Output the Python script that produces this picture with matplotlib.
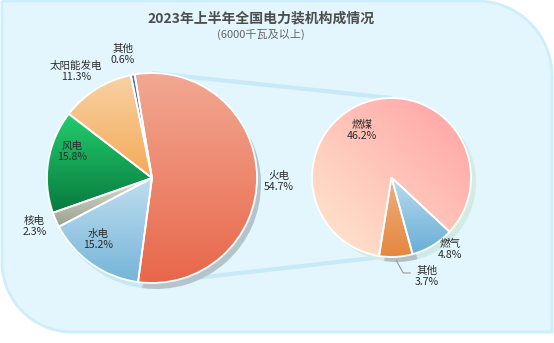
import numpy as np
import matplotlib
matplotlib.use('Agg')
import matplotlib.pyplot as plt
from matplotlib.path import Path
from matplotlib.patches import PathPatch
from matplotlib.colors import LinearSegmentedColormap

plt.rcParams['font.family'] = ['Noto Sans CJK SC', 'DejaVu Sans']

# 数据
title = '2023年上半年全国电力装机构成情况'
subtitle = '(6000千瓦及以上)'
main_labels = ['火电', '水电', '核电', '风电', '太阳能发电', '其他']
main_values = [54.7, 15.2, 2.3, 15.8, 11.3, 0.6]
sub_labels = ['燃煤', '燃气', '其他']
sub_values = [46.2, 4.8, 3.7]

# 颜色 (上, 下)
main_colors = [('#f2a892', '#e8674a'), ('#c0def0', '#76b5d8'), ('#dcded3', '#9aa08d'),
               ('#22cc6e', '#087a3d'), ('#f8d1a3', '#f4aa58'), ('#4a7cc8', '#2f5fb0')]
main_shadow = ['#b5c4cb', '#c6e8f5', '#c6e8f5', '#c6e8f5', '#c6e8f5', '#c6e8f5']
sub_colors = [('#ffa0a4', '#ffe9cf'), ('#b8dcef', '#6aaed6'), ('#ecb07f', '#e6873f')]
sub_shadow = ['#d3ece2', '#cfe9e6', '#b3bfc4']

W, H = 554, 343
fig = plt.figure(figsize=(W / 100, H / 100), dpi=100)
ax = fig.add_axes([0, 0, 1, 1])


def Y(y):
    return H - y


# 背景面板 (右上, 左下圆角)
def panel_path(x0, y0, x1, y1, r1, r2):
    t = np.linspace(0, np.pi / 2, 30)
    pts = [(x0, Y(y0)), (x1 - r1, Y(y0))]
    cx, cy = x1 - r1, Y(y0) - r1
    pts += list(zip(cx + r1 * np.sin(t), cy + r1 * np.cos(t)))
    pts += [(x1, Y(y1)), (x0 + r2, Y(y1))]
    cx, cy = x0 + r2, Y(y1) + r2
    pts += list(zip(cx - r2 * np.sin(t), cy - r2 * np.cos(t)))
    pts += [(x0, Y(y0))]
    return Path(pts)


ax.add_patch(PathPatch(panel_path(2, 1, 552, 332, 75, 70), facecolor='#e3f6fe',
                       edgecolor='#cdeefb', lw=2, zorder=0))

main_c, main_r, main_start = (152, Y(178)), 105, 99.5
sub_c, sub_r, sub_start = (391.5, Y(177.5)), 79.5, 261


def pt(c, r, ang, f):
    a = np.deg2rad(ang)
    return c[0] + f * r * np.cos(a), c[1] + f * r * np.sin(a)


# 连接线
for a1, a2 in [(90, 90), (-90, -95)]:
    p1 = pt(main_c, main_r, a1, 1.0)
    p2 = pt(sub_c, sub_r, a2, 1.0)
    ax.plot([p1[0], p2[0]], [p1[1], p2[1]], color='#c8e9f7', lw=3, zorder=0.5,
            solid_capstyle='butt')

# 阴影
ax.pie(main_values, colors=main_shadow, radius=main_r, center=(main_c[0] + 4, main_c[1] - 6),
       startangle=main_start, counterclock=False, wedgeprops=dict(lw=0, zorder=1))
ax.pie(sub_values, colors=sub_shadow, radius=sub_r, center=(sub_c[0] + 5, sub_c[1] - 5),
       startangle=sub_start, counterclock=False, wedgeprops=dict(lw=0, zorder=1))


def fill_gradient(w, c_top, c_bot, diagonal=False):
    ext = w.get_path().get_extents()
    n = 200
    if diagonal:
        gx, gy = np.meshgrid(np.linspace(0, 1, n), np.linspace(0, 1, n))
        data = (gx + gy) / 2
    else:
        data = np.linspace(0, 1, n)[:, None] * np.ones((1, 2))
    cmap = LinearSegmentedColormap.from_list('g', [c_bot, c_top])
    ax.imshow(data, cmap=cmap, origin='lower', aspect='auto', interpolation='bilinear',
              extent=(ext.x0, ext.x1, ext.y0, ext.y1), zorder=2, clip_path=w)
    w.set_facecolor('none')
    w.set_zorder(3)


main_w, _ = ax.pie(main_values, radius=main_r, center=main_c, startangle=main_start,
                   counterclock=False, wedgeprops=dict(edgecolor='white', lw=1.3))
for w, (ct, cb) in zip(main_w, main_colors):
    fill_gradient(w, ct, cb)

sub_w, _ = ax.pie(sub_values, radius=sub_r, center=sub_c, startangle=sub_start,
                  counterclock=False, wedgeprops=dict(edgecolor='white', lw=1.3))
for i, (w, (ct, cb)) in enumerate(zip(sub_w, sub_colors)):
    fill_gradient(w, ct, cb, diagonal=(i == 0))

# 标签
main_pos = [(-1.6, 1.21), (-131, 0.78), (-157.5, 1.21), (161.7, 0.80), (125.5, 1.25), (103.2, 1.21)]
for lab, v, (a, f) in zip(main_labels, main_values, main_pos):
    x, y = pt(main_c, main_r, a, f)
    ax.text(x, y, f'{lab}\n{v}%', ha='center', va='center', fontsize=7.6,
            color='#2b2b2b', linespacing=1.15, zorder=5)

sub_pos = [(121.8, 0.70), (-51, 1.17), (-70.3, 1.32)]
for lab, v, (a, f) in zip(sub_labels, sub_values, sub_pos):
    x, y = pt(sub_c, sub_r, a, f)
    ax.text(x, y, f'{lab}\n{v}%', ha='center', va='center', fontsize=7.6,
            color='#2b2b2b', linespacing=1.15, zorder=5)

# 其他 引导线
w = sub_w[2]
mid = (w.theta1 + w.theta2) / 2
p1 = pt(sub_c, sub_r, mid, 1.04)
p2 = pt(sub_c, sub_r, -83, 1.21)
ax.plot([p1[0], p2[0], p2[0] + 7], [p1[1], p2[1], p2[1]], color='#999999', lw=0.8, zorder=5)

ax.text(261, Y(18), title, ha='center', va='center', fontsize=10, fontweight='bold',
        color='#4d4d4d')
ax.text(261, Y(34), subtitle, ha='center', va='center', fontsize=8, color='#666666')

ax.set_xlim(0, W)
ax.set_ylim(0, H)
ax.set_aspect('auto')
ax.axis('off')

fig.savefig('out.png', dpi=100, facecolor='white')
